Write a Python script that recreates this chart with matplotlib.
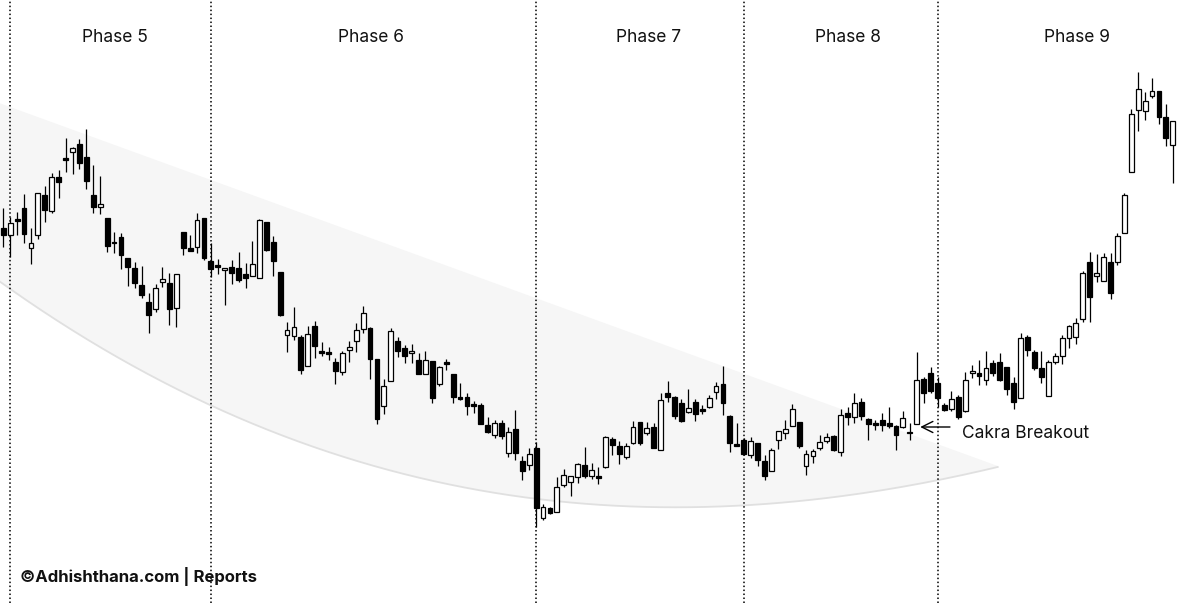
import matplotlib
matplotlib.use("Agg")
import matplotlib.pyplot as plt
from matplotlib.patches import Rectangle, Polygon
import numpy as np

# ---- OHLC data (price units) ----
opens = [372, 365, 381, 392, 352, 365, 405, 389, 423, 442,
         448, 456, 443, 405, 393, 382, 358, 363, 342, 332,
         315, 298, 291, 318, 317, 292, 368, 352, 353, 382,
         339, 335, 330, 333, 332, 326, 324, 322, 378, 358,
         328, 265, 264, 263, 234, 274, 249, 248, 238, 228,
         250, 259, 271, 272, 241, 194, 219, 259, 252, 247,
         240, 226, 239, 216, 238, 226, 203, 203, 196, 195,
         175, 165, 177, 147, 171, 139, 135, 152, 82, 92,
         88, 115, 118, 123, 135, 124, 124, 133, 161, 154,
         143, 157, 178, 167, 173, 150, 207, 203, 197, 188,
         198, 191, 193, 208, 216, 184, 156, 160, 145, 157,
         139, 129, 160, 167, 174, 178, 134, 144, 152, 159,
         164, 148, 187, 183, 198, 181, 177, 180, 177, 174,
         173, 168, 176, 221, 227, 217, 195, 191, 203, 189,
         227, 227, 220, 237, 238, 233, 217, 202, 263, 248,
         232, 204, 238, 244, 262, 263, 281, 338, 324, 319,
         338, 338, 367, 428, 490, 489, 504, 509, 483, 455]
highs = [392, 383, 388, 406, 372, 407, 414, 427, 430, 462,
         453, 461, 471, 435, 424, 382, 368, 367, 342, 338,
         334, 307, 316, 333, 327, 326, 368, 365, 387, 382,
         357, 341, 332, 340, 348, 337, 359, 381, 378, 364,
         328, 278, 293, 265, 274, 279, 258, 253, 242, 249,
         259, 277, 294, 273, 241, 221, 272, 263, 255, 256,
         247, 249, 239, 234, 241, 226, 217, 207, 199, 197,
         183, 180, 180, 173, 190, 144, 152, 158, 96, 93,
         123, 131, 124, 137, 153, 137, 133, 164, 163, 159,
         157, 179, 178, 178, 177, 207, 219, 204, 201, 211,
         201, 195, 205, 218, 234, 185, 177, 162, 163, 157,
         145, 152, 169, 180, 196, 178, 150, 151, 165, 167,
         165, 191, 193, 207, 202, 182, 180, 187, 193, 175,
         189, 177, 248, 223, 233, 223, 197, 209, 205, 228,
         235, 240, 249, 240, 247, 233, 223, 267, 265, 250,
         249, 240, 247, 265, 275, 282, 329, 348, 346, 347,
         347, 367, 407, 491, 528, 508, 522, 509, 496, 479]
lows = [353, 343, 365, 357, 336, 361, 378, 387, 402, 428,
        426, 431, 411, 387, 386, 348, 347, 331, 314, 312,
        302, 267, 288, 313, 275, 273, 345, 349, 347, 340,
        323, 326, 295, 316, 318, 312, 324, 322, 349, 324,
        284, 248, 260, 226, 234, 242, 244, 240, 216, 225,
        238, 248, 267, 221, 176, 186, 219, 243, 237, 237,
        226, 226, 197, 214, 230, 197, 200, 185, 187, 176,
        167, 162, 161, 143, 140, 120, 130, 73, 80, 86,
        88, 113, 104, 117, 122, 121, 116, 132, 145, 136,
        141, 156, 155, 165, 152, 150, 198, 181, 178, 187,
        179, 186, 192, 201, 185, 148, 154, 145, 142, 134,
        120, 129, 151, 161, 174, 152, 125, 137, 150, 157,
        149, 144, 175, 177, 180, 160, 170, 169, 172, 150,
        172, 160, 176, 197, 207, 193, 189, 189, 181, 188,
        222, 215, 215, 224, 219, 205, 191, 202, 244, 230,
        217, 204, 236, 236, 252, 256, 278, 278, 318, 319,
        301, 335, 367, 428, 469, 480, 502, 476, 454, 417]
closes = [365, 377, 379, 366, 357, 407, 390, 423, 418, 440,
          452, 437, 419, 393, 396, 354, 357, 345, 333, 317,
          305, 285, 312, 321, 291, 326, 352, 349, 380, 342,
          331, 333, 332, 327, 320, 322, 336, 380, 350, 339,
          285, 270, 273, 230, 266, 254, 247, 246, 229, 247,
          253, 270, 287, 241, 181, 214, 269, 249, 244, 249,
          226, 240, 202, 233, 236, 203, 201, 194, 194, 176,
          168, 177, 164, 168, 147, 129, 146, 92, 93, 87,
          113, 125, 124, 136, 124, 130, 122, 163, 155, 146,
          154, 173, 157, 172, 152, 200, 203, 184, 179, 192,
          186, 189, 202, 214, 197, 157, 154, 146, 159, 140,
          124, 150, 169, 171, 191, 154, 146, 149, 158, 163,
          150, 185, 183, 197, 184, 176, 175, 175, 174, 165,
          182, 167, 220, 207, 209, 202, 190, 201, 183, 220,
          229, 224, 232, 227, 220, 211, 198, 262, 250, 232,
          223, 238, 244, 262, 274, 277, 327, 303, 327, 343,
          307, 364, 405, 486, 511, 499, 509, 483, 462, 479]

phase_lines = [1, 30, 77, 107, 135]
phase_labels = ["Phase 5", "Phase 6", "Phase 7", "Phase 8", "Phase 9"]
phase_label_x = [16.2, 53.1, 93.2, 122.1, 155.2]

# curved "cup" band: upper straight edge and lower curved edge anchors
band_upper_x = [-1.0, 143.7]
band_upper_y = [498, 134]
band_lower_x = [-1.0, 11.5, 38.5, 61.7, 68.9, 77.6, 86.2, 99.2, 126.7, 143.7]
band_lower_y = [322, 262, 168, 121, 110, 102, 95, 92, 108, 134]

breakout_idx = 132

fig = plt.figure(figsize=(12, 6.03), dpi=100)
ax = fig.add_axes([0, 0, 1, 1])
ax.set_xlim(-0.477, 172.93)
ax.set_ylim(-3, 600)
ax.axis("off")

# band
coef = np.polyfit(band_lower_x, band_lower_y, 3)
xs = np.linspace(band_lower_x[0], band_lower_x[-1], 200)
ys_low = np.polyval(coef, xs)
ys_up = np.interp(xs, band_upper_x, band_upper_y)
poly = np.vstack([np.column_stack([xs, ys_up]), np.column_stack([xs[::-1], ys_low[::-1]])])
ax.add_patch(Polygon(poly, closed=True, facecolor="#f6f6f6", edgecolor="none", zorder=0))
ax.plot(xs, ys_low, color="#e0e0e0", lw=1.3, zorder=1)

# phase separators
for px in phase_lines:
    ax.axvline(px, color="black", lw=1.1, linestyle=(0, (1, 1.6)), zorder=2)

for lab, lx in zip(phase_labels, phase_label_x):
    ax.text(lx, 562, lab, ha="center", va="center", fontsize=12.5,
            family=["Inter", "DejaVu Sans"], color="#111111", zorder=6)

# candles
w = 0.70
for i in range(len(opens)):
    o, h, l, c = opens[i], highs[i], lows[i], closes[i]
    up = c > o
    ax.vlines(i, l, h, color="black", lw=0.9, zorder=3)
    bottom = min(o, c)
    height = max(abs(c - o), 1.2)
    ax.add_patch(Rectangle((i - w / 2, bottom), w, height,
                           facecolor="white" if up else "black",
                           edgecolor="black", lw=0.9, zorder=4))

# breakout annotation
ax.annotate("", xy=(breakout_idx + 0.1, 173), xytext=(137.2, 173),
            arrowprops=dict(arrowstyle="->", color="black", lw=1.0, mutation_scale=20),
            zorder=6)
ax.text(138.5, 166, "Cakra Breakout", ha="left", va="center", fontsize=12.5,
        family=["Inter", "DejaVu Sans"], color="#111111", zorder=6)

fig.text(20 / 1200, 1 - 576 / 603, "©Adhishthana.com | Reports", ha="left", va="center",
         fontsize=12, fontweight="bold", family=["Inter", "DejaVu Sans"], color="#111111")

fig.savefig("out.png", dpi=100)
